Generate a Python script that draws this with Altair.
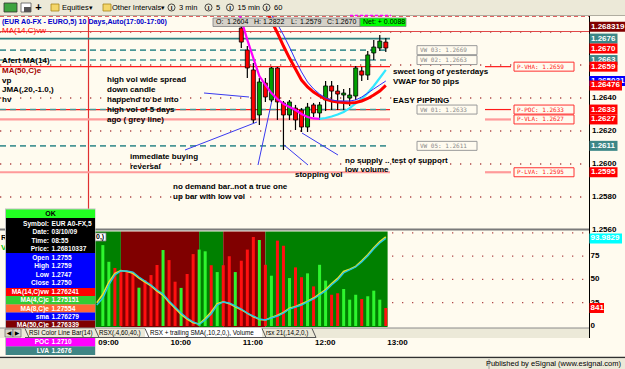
import altair as alt
import pandas as pd

FONT = "Liberation Sans"
MONO = "DejaVu Sans Mono"
CREAM = "#FFFBEF"
GREYUI = "#ECE9D8"

# ---------------- values ----------------
# 5-minute candles, time = minutes after 09:00
candle_t = list(range(120, 245, 5))
cd_open = [1.26824, 1.26691, 1.26570, 1.26297, 1.26491, 1.26388, 1.26582, 1.26370, 1.26297,
           1.26339, 1.26327, 1.26224, 1.26358, 1.26309, 1.26388, 1.26473, 1.26442, 1.26418,
           1.26400, 1.26412, 1.26564, 1.26539, 1.26673, 1.26703, 1.26739]
cd_high = [1.26885, 1.26715, 1.26612, 1.26521, 1.26521, 1.26588, 1.26588, 1.26382, 1.26388,
           1.26358, 1.26339, 1.26370, 1.26370, 1.26376, 1.26503, 1.26503, 1.26479, 1.26455,
           1.26461, 1.26594, 1.26588, 1.26685, 1.26752, 1.26782, 1.26764]
cd_low = [1.26703, 1.26521, 1.26248, 1.26236, 1.26376, 1.26376, 1.26267, 1.26085, 1.26267,
          1.26206, 1.26194, 1.26194, 1.26285, 1.26267, 1.26321, 1.26327, 1.26327, 1.26327,
          1.26352, 1.26388, 1.26503, 1.26509, 1.26630, 1.26685, 1.26679]
cd_close = [1.26739, 1.26582, 1.26267, 1.26497, 1.26406, 1.26582, 1.26376, 1.26297, 1.26376,
            1.26267, 1.26224, 1.26345, 1.26309, 1.26358, 1.26473, 1.26442, 1.26424, 1.26430,
            1.26418, 1.26582, 1.26539, 1.26661, 1.26709, 1.26745, 1.26703]

# moving averages drawn on the price pane
ma14_t = list(range(140, 245, 5))
ma14 = [1.26945, 1.26867, 1.26794, 1.26715, 1.26642, 1.26576, 1.26509, 1.26467, 1.26436,
        1.26412, 1.26394, 1.26382, 1.26376, 1.26373, 1.26370, 1.26373, 1.26382, 1.26397,
        1.26418, 1.26442, 1.26476]
sma_t = list(range(145, 245, 5))
sma = [1.26903, 1.26848, 1.26782, 1.26709, 1.26630, 1.26558, 1.26497, 1.26455, 1.26424,
       1.26400, 1.26388, 1.26382, 1.26382, 1.26382, 1.26388, 1.26406, 1.26430, 1.26455,
       1.26479, 1.26503]
ma4_t = list(range(115, 190, 5))
ma4 = [1.26982, 1.26873, 1.26752, 1.26642, 1.26533, 1.26479, 1.26430, 1.26394, 1.26364,
       1.26345, 1.26327, 1.26303, 1.26285, 1.26276, 1.26273]
jma_t = list(range(185, 245, 5))
jma = [1.26273, 1.26279, 1.26288, 1.26300, 1.26315, 1.26339, 1.26367, 1.26394, 1.26430,
       1.26473, 1.26521, 1.26570]

# volume pane
vol_t = [-75] + list(range(5, 245, 5))
volume = [3320,
          3780, 3000, 2710, 2620, 2570, 2520, 1790, 2150, 2380, 2850, 3550, 3080, 2070, 1780,
          2430, 3360, 3570, 3490, 2840, 2520, 2840, 3260, 2520, 3050, 3570, 4160, 4020, 2860,
          2350, 3990, 3750, 2240, 2740, 2280, 2460, 1850, 2860, 2120, 1460, 1530, 1730, 1230,
          1460, 1260, 1390, 1650, 1230, 841]
vol_dir = list("G" + "GGRRRRGRRRGRRGRR" + "GGRGRRGRRRGRGRRGRRGRGGRRGGGRGGGR")
rsx_t = list(range(0, 245, 5))
rsx_cyan = [22.5, 30.0, 44.0, 54.7, 59.0, 59.0, 57.9, 52.6, 48.3, 44.0, 38.6, 34.3, 26.8, 20.4,
            13.9, 8.6, 4.3, 1.6, 6.4, 12.9, 22.5, 25.8, 24.7, 21.5, 18.2, 13.9, 10.7, 7.5, 6.4,
            8.6, 10.7, 13.9, 18.2, 20.4, 22.5, 25.8, 29.0, 33.3, 37.6, 44.0, 49.4, 56.9, 60.1,
            63.3, 68.7, 75.1, 82.6, 89.1, 94.0]
rsx_yellow = [25, 34, 47, 56.5, 59.5, 58.5, 56.5, 51.5, 47, 43, 37.5, 33, 25.5, 19, 12.5, 7.5,
              3.5, 2, 8, 15, 24, 26, 24, 20.5, 17.5, 13.5, 10, 7, 6.5, 9, 11.5, 14.5, 19, 21,
              23.5, 26.5, 30, 34.5, 39, 45.5, 51, 58.5, 61, 64, 70, 76.5, 84, 90.5, 95.5]
band_start = [-70, 20, 85, 105, 140]
band_end = [20, 85, 105, 140, 241.5]
band_state = ["bull", "bear", "bull", "bear", "bull"]

# horizontal levels
vw_levels = [1.2669, 1.2663, 1.2633, 1.2611]
vw_names = ["VW 03:", "VW 02:", "VW 01:", "VW 05:"]
vw_top = 1.2676
p_levels = [1.2659, 1.2633, 1.2627, 1.2595]
p_names = ["P-VHA:", "P-POC:", "P-VLA:", "P-LVA:"]
p_kind = ["strong", "strong", "light", "light"]
ma_line_level = 1.26803
grid_prices = [1.2680, 1.2660, 1.2640, 1.2620, 1.2600, 1.2580]
price_ticks = [1.2640, 1.2620, 1.2600, 1.2580, 1.2560]
rsx_ticks = [75, 50, 25, 0]
rsx_grid = [100, 75, 50, 25]
time_ticks = [0, 60, 120, 180, 240]
time_labels = ["09:00", "10:00", "11:00", "12:00", "13:00"]

# value tags on the right axis
tag_p = [1.268319, 1.2676, 1.2670, 1.2663, 1.2659, 1.26503, 1.26476, 1.2633, 1.2627, 1.2611, 1.2595]
tag_txt = ["1.268319", "1.2676", "1.2670", "1.2663", "1.2659", "1.265031", "1.26476", "1.2633",
           "1.2627", "1.2611", "1.2595"]
tag_kind = ["ma50", "vw", "red", "vw", "red", "sma", "red", "red", "red", "vw", "red"]
rsx_last, rsx_last_txt = 93.98, "93.9829"
vol_last, vol_last_txt = 841, "841"

# ---------------- scales ----------------
XS = alt.Scale(domain=[-76.25, 434.5], range=[0, 625], nice=False, zero=False)
PS = alt.Scale(domain=[1.2560, 1.2690], range=[230, 15.5], nice=False, zero=False)
RS = alt.Scale(domain=[0, 100], range=[326, 232.8], nice=False, zero=False)
VS = alt.Scale(domain=[0, 4355], range=[326, 232.8], nice=False, zero=False)
X = alt.X("t:Q", scale=XS, axis=None)

ONE = pd.DataFrame({"_": [0]})
layers = []


def txt(s, x, y, size=8, color="black", bold=True, align="left", font=FONT):
    return alt.Chart(ONE).mark_text(text=s, align=align, baseline="middle", font=font,
                                    fontSize=size, fontWeight="bold" if bold else "normal",
                                    color=color).encode(x=alt.value(x), y=alt.value(y))


def box(x, x2, y, y2, fill, stroke=None, sw=1.0):
    kw = dict(fill=fill)
    if stroke:
        kw.update(stroke=stroke, strokeWidth=sw)
    else:
        kw.update(strokeWidth=0)
    return alt.Chart(ONE).mark_rect(**kw).encode(x=alt.value(x), x2=alt.value(x2),
                                                  y=alt.value(y), y2=alt.value(y2))


def seg(x, y, x2, y2, color, w=1.0, dash=None):
    kw = dict(color=color, strokeWidth=w)
    if dash:
        kw["strokeDash"] = dash
    return alt.Chart(ONE).mark_rule(**kw).encode(x=alt.value(x), y=alt.value(y),
                                                  x2=alt.value(x2), y2=alt.value(y2))


# ---------------- lower pane: trend bands, volume, RSX ----------------
bands = pd.DataFrame({"t": band_start, "t2": band_end, "s": band_state})
layers.append(alt.Chart(bands).mark_rect().encode(
    x=X, x2="t2:Q", y=alt.value(231.5), y2=alt.value(327),
    color=alt.Color("s:N", scale=alt.Scale(domain=["bull", "bear"], range=["#008000", "#800000"]),
                    legend=None)))
for v in rsx_grid:
    d = pd.DataFrame({"v": [v]})
    layers.append(alt.Chart(d).mark_rule(color="#B04848", strokeWidth=1.3, strokeDash=[1.3, 8.7]).encode(
        x=alt.value(392), x2=alt.value(589), y=alt.Y("v:Q", scale=RS, axis=None)))
vdf = pd.DataFrame({"t": vol_t, "v": volume, "d": vol_dir})
layers.append(alt.Chart(vdf).mark_bar(size=3).encode(
    x=X, y=alt.Y("v:Q", scale=VS, axis=None),
    color=alt.Color("d:N", scale=alt.Scale(domain=["G", "R"], range=["#2EF52E", "#FF1010"]), legend=None)))
rdf = pd.DataFrame({"t": rsx_t, "c": rsx_cyan, "y": rsx_yellow})
layers.append(alt.Chart(rdf).mark_line(color="#E8E030", strokeWidth=1.6).encode(
    x=X, y=alt.Y("y:Q", scale=RS, axis=None)))
layers.append(alt.Chart(rdf).mark_line(color="#22C8E6", strokeWidth=1.4).encode(
    x=X, y=alt.Y("c:Q", scale=RS, axis=None)))

# ---------------- upper pane: grid and level lines ----------------
for p in grid_prices:
    d = pd.DataFrame({"p": [p]})
    layers.append(alt.Chart(d).mark_rule(color="#B04848", strokeWidth=1.3, strokeDash=[1.3, 8.7]).encode(
        x=alt.value(0), x2=alt.value(589), y=alt.Y("p:Q", scale=PS, axis=None)))

layers.append(seg(0, 16.5, 589, 16.5, "#E06060", 1, [4, 3]))
layers.append(alt.Chart(pd.DataFrame({"p": [ma_line_level]})).mark_rule(color="#E04848", strokeWidth=1).encode(
    x=alt.value(0), x2=alt.value(589), y=alt.Y("p:Q", scale=PS, axis=None)))
layers.append(seg(88.5, 17, 88.5, 229, "#E03030", 1.2))

pcol = {"strong": "#FF1A1A", "light": "#FF9A9A"}
pw = {"strong": 1.2, "light": 2.2}
for p, k in zip(p_levels, p_kind):
    d = pd.DataFrame({"p": [p]})
    for xa, xb in [(0, 390), (485, 511)]:
        layers.append(alt.Chart(d).mark_rule(color=pcol[k], strokeWidth=pw[k]).encode(
            x=alt.value(xa), x2=alt.value(xb), y=alt.Y("p:Q", scale=PS, axis=None)))
layers.append(alt.Chart(pd.DataFrame({"p": [vw_top]})).mark_rule(color="#2F7F7F", strokeWidth=1.6).encode(
    x=alt.value(0), x2=alt.value(390), y=alt.Y("p:Q", scale=PS, axis=None)))
for p in vw_levels:
    d = pd.DataFrame({"p": [p]})
    layers.append(alt.Chart(d).mark_rule(color="#4A9696", strokeWidth=1.6, strokeDash=[6, 4]).encode(
        x=alt.value(0), x2=alt.value(390), y=alt.Y("p:Q", scale=PS, axis=None)))

# level tags inside the chart
for p, n in zip(vw_levels, vw_names):
    d = pd.DataFrame({"p": [p], "s": [f"{n}   {p:.4f}"]})
    layers.append(alt.Chart(d).mark_rect(fill=CREAM, stroke="#9A9A9A", strokeWidth=1, yOffset=-4.5,
                                         y2Offset=4.5).encode(
        x=alt.value(417), x2=alt.value(477), y=alt.Y("p:Q", scale=PS, axis=None), y2="p:Q"))
    layers.append(alt.Chart(d).mark_text(font=MONO, fontSize=6, color="#8A8A8A", align="left",
                                         baseline="middle").encode(
        x=alt.value(420), y=alt.Y("p:Q", scale=PS, axis=None), text="s:N"))
for p, n in zip(p_levels, p_names):
    d = pd.DataFrame({"p": [p], "s": [f"{n}   {p:.4f}"]})
    layers.append(alt.Chart(d).mark_rect(fill=CREAM, stroke="#FF3030", strokeWidth=1, yOffset=-4.5,
                                         y2Offset=4.5).encode(
        x=alt.value(514), x2=alt.value(574), y=alt.Y("p:Q", scale=PS, axis=None), y2="p:Q"))
    layers.append(alt.Chart(d).mark_text(font=MONO, fontSize=6, color="#FF2020", align="left",
                                         baseline="middle").encode(
        x=alt.value(517), y=alt.Y("p:Q", scale=PS, axis=None), text="s:N"))

# annotation pointer lines
for (a, b, c, d_) in [(204, 93, 249, 97), (185, 150, 257, 122), (258, 165, 272, 100),
                      (284, 145, 308, 165), (302, 133, 338, 155)]:
    layers.append(seg(a, b, c, d_, "#3A3AF0", 1))

# ---------------- candles and averages ----------------
cdf = pd.DataFrame({"t": candle_t, "o": cd_open, "h": cd_high, "l": cd_low, "c": cd_close})
cdf["dir"] = ["up" if c >= o else "down" for o, c in zip(cdf.o, cdf.c)]
layers.append(alt.Chart(cdf).mark_rule(color="black", strokeWidth=1.2).encode(
    x=X, y=alt.Y("l:Q", scale=PS, axis=None), y2="h:Q"))
layers.append(alt.Chart(cdf).mark_bar(size=4, stroke="black", strokeWidth=0.8).encode(
    x=X, y=alt.Y("o:Q", scale=PS, axis=None), y2="c:Q",
    color=alt.Color("dir:N", scale=alt.Scale(domain=["up", "down"], range=["#00A000", "#FF0000"]),
                    legend=None)))
for tt, vv, col, w in [(ma4_t, ma4, "#FF00FF", 2.2), (jma_t, jma, "#33E8FF", 2.2),
                       (ma14_t, ma14, "#FF0000", 3), (sma_t, sma, "#3030FF", 1)]:
    d = pd.DataFrame({"t": tt, "p": vv})
    layers.append(alt.Chart(d).mark_line(color=col, strokeWidth=w).encode(
        x=X, y=alt.Y("p:Q", scale=PS, axis=None)))

# ---------------- texts on the price pane ----------------
layers.append(txt("(EUR A0-FX - EURO,5) 10 Days,Auto(17:00-17:00)", 2, 21.5, 7.1, "#0000CC"))
layers.append(txt("MA(14,C)vw", 2, 31, 8, "#FF0000", bold=False))
layers.append(txt("Afert MA(14)", 2, 61, 8))
layers.append(txt("MA(50,C)e", 2, 71, 8, "#A00000"))
layers.append(txt("vp", 2, 80.5, 8))
layers.append(txt("JMA(,20,-1.0,)", 2, 90, 8))
layers.append(txt("hv", 2, 99.5, 8))
notes = [("high vol wide spread", 107, 80), ("down candle", 107, 90), ("happend to be into", 107, 100),
         ("high vol of 5 days", 107, 109.5), ("ago ( grey line)", 107, 119.5),
         ("immediate buying", 130, 157), ("reversal", 130, 166.5),
         ("no demand bar..not a true one", 173, 187), ("up bar with low vol", 173, 196.5),
         ("stopping vol", 295, 174.5), ("no supply .. test of support", 345, 160.5),
         ("low volume", 345, 170), ("sweet long of yesterdays", 393, 72),
         ("VWAP for 50 pips", 393, 81.5), ("EASY PIPPING", 393, 100.5)]
for s, x, y in notes:
    layers.append(txt(s, x, y, 8))

# ---------------- right axis ----------------
layers.append(seg(0, 229.5, 589, 229.5, "#7A7A7A", 2))
layers.append(seg(589.5, 16, 589.5, 338, "black", 1))
for p in price_ticks:
    d = pd.DataFrame({"p": [p], "s": [f"{p:.4f}"]})
    layers.append(alt.Chart(d).mark_text(font=FONT, fontSize=8, fontWeight="bold", align="left",
                                         baseline="middle", color="black").encode(
        x=alt.value(592), y=alt.Y("p:Q", scale=PS, axis=None), text="s:N"))
for v in rsx_ticks:
    d = pd.DataFrame({"v": [v], "s": [str(v)]})
    layers.append(alt.Chart(d).mark_text(font=FONT, fontSize=8, fontWeight="bold", align="left",
                                         baseline="middle", color="black").encode(
        x=alt.value(590.5), y=alt.Y("v:Q", scale=RS, axis=None), text="s:N"))
tagcol = {"ma50": "#800000", "vw": "#3D8787", "red": "#FF0000", "sma": "#0000FF"}
for p, s, k in zip(tag_p, tag_txt, tag_kind):
    d = pd.DataFrame({"p": [p], "s": [s]})
    w = 4.5 * len(s) + 1
    layers.append(alt.Chart(d).mark_rect(fill=tagcol[k], yOffset=-5, y2Offset=5).encode(
        x=alt.value(589.5), x2=alt.value(589.5 + w), y=alt.Y("p:Q", scale=PS, axis=None), y2="p:Q"))
    layers.append(alt.Chart(d).mark_text(font=FONT, fontSize=8, fontWeight="bold", align="left",
                                         baseline="middle", color="white").encode(
        x=alt.value(591), y=alt.Y("p:Q", scale=PS, axis=None), text="s:N"))
for val, s, sc, col in [(rsx_last, rsx_last_txt, RS, "#00FFFF"), (vol_last, vol_last_txt, VS, "#FF0000")]:
    d = pd.DataFrame({"v": [val], "s": [s]})
    w = 4.5 * len(s) + 1
    layers.append(alt.Chart(d).mark_rect(fill=col, yOffset=-5, y2Offset=5).encode(
        x=alt.value(589.5), x2=alt.value(589.5 + w), y=alt.Y("v:Q", scale=sc, axis=None), y2="v:Q"))
    layers.append(alt.Chart(d).mark_text(font=FONT, fontSize=8, fontWeight="bold", align="left",
                                         baseline="middle", color="white").encode(
        x=alt.value(590.5), y=alt.Y("v:Q", scale=sc, axis=None), text="s:N"))

# small pane caption in lower pane
layers.append(box(95, 106, 233, 241, "white", "#777777", 0.8))
layers.append(txt("0,)", 96, 237, 7))
layers.append(txt("R", 1, 238, 8))
layers.append(txt("V", 1, 247.5, 8, "#00C000"))

# ---------------- data window (legend box) ----------------
layers.append(box(5, 95.5, 208.5, 355, "#C0C0C0"))
layers.append(box(6, 95, 209.5, 218, "#22FF22"))
layers.append(txt("OK", 50.5, 214, 7, "black", align="center"))
blocks = [(218, 253, "#000000"), (253, 288, "#0000FF"), (288, 296, "#FF0000"), (296, 304.5, "#33CC33"),
          (304.5, 312.5, "#FF6633"), (312.5, 320.5, "#0000FF"), (320.5, 329, "#800000"),
          (338, 346.5, "#FF00FF"), (346.5, 355, "#3F8585")]
for a, b, c in blocks:
    layers.append(box(6, 95, a, b, c))
rows = [("Symbol:", "EUR A0-FX,5", 223.5), ("Date:", "03/10/09", 232), ("Time:", "08:55", 240.5),
        ("Price:", "1.26810337", 249), ("Open", "1.2755", 257.5), ("High", "1.2759", 266),
        ("Low", "1.2747", 274.5), ("Close", "1.2750", 283), ("MA(14,C)vw", "1.276241", 292),
        ("MA(4,C)c", "1.275151", 300.3), ("MA(8,C)e", "1.27554", 308.5), ("sma", "1.276279", 316.5),
        ("MA(50,C)e", "1.276339", 324.8), ("POC", "1.2710", 342.3), ("LVA", "1.2676", 350.8)]
for a, b, y in rows:
    layers.append(txt(a, 49, y, 6.6, "white", align="right"))
    layers.append(txt(b, 51.5, y, 6.6, "white"))

# ---------------- tab bar and time axis ----------------
layers.append(box(0, 589, 328, 338, GREYUI))
layers.append(seg(0, 328, 589, 328, "#8A8A8A", 1))
layers.append(box(145, 262, 328, 337.5, "white"))
for x in [25, 95, 145, 262, 312]:
    layers.append(seg(x, 328.5, x + 4, 337.5, "#555555", 1))
layers.append(seg(25, 337.5, 316, 337.5, "#555555", 1))
layers.append(box(5, 13, 329, 337, "#D8D4C8", "#777777", 0.8))
layers.append(box(13, 21, 329, 337, "#D8D4C8", "#777777", 0.8))
layers.append(txt("\u25C0", 9, 333, 6, "black", align="center", font="DejaVu Sans"))
layers.append(txt("\u25B6", 17, 333, 6, "black", align="center", font="DejaVu Sans"))
for s, x in [("RSI Color Line Bar(14)", 29), ("RSX(,4,60,40,)", 99),
             ("RSX + trailing SMA(,10,2,0,), Volume", 150), ("rsx 21(,14,2,0,)", 266)]:
    layers.append(txt(s, x, 333, 6.3, "black", bold=False))
tdf = pd.DataFrame({"t": time_ticks, "s": time_labels})
layers.append(alt.Chart(tdf).mark_text(font=FONT, fontSize=8, fontWeight="bold", align="left",
                                       baseline="middle", color="black", dx=1.5).encode(
    x=X, y=alt.value(343), text="s:N"))

# ---------------- toolbar and header ----------------
layers.append(box(0, 625, 0, 15.5, GREYUI))
layers.append(seg(0, 15.5, 625, 15.5, "#B0ADA0", 1))
layers.append(box(4, 17, 3, 12, "#3FA43F", "#333333", 0.8))
layers.append(box(21, 31, 3, 12, "white", "#555555", 0.8))
layers.append(box(24, 31, 7, 12, "#555555"))
layers.append(txt("+", 38.5, 7.5, 11, "black", align="center"))
for x in [51, 103]:
    layers.append(box(x, x + 8, 4, 11, "#F4D66A", "#A8861B", 0.8))
layers.append(txt("Equities", 62, 7.5, 7.5, "black", bold=False))
layers.append(txt("\u25BE", 89, 7.5, 7, "black", font="DejaVu Sans"))
layers.append(txt("Other Intervals", 112, 7.5, 7.5, "black", bold=False))
layers.append(txt("\u25BE", 161, 7.5, 7, "black", font="DejaVu Sans"))
for cx, s in [(171.5, "3 min"), (208.5, "5"), (230, "15 min"), (266.5, "60")]:
    layers.append(alt.Chart(ONE).mark_point(shape="circle", size=50, filled=False, color="black",
                                            strokeWidth=1).encode(x=alt.value(cx), y=alt.value(7.5)))
    layers.append(txt("I", cx, 7.5, 6, "black", align="center"))
    layers.append(txt(s, cx + 7.5, 7.5, 7.5, "black", bold=False))
layers.append(seg(350, 15.5, 391, 15.5, "#FF00FF", 1.5, [3, 2]))
layers.append(box(213, 360, 18, 26.5, "#D4D0C8", "#808080", 0.8))
for s, x in [("O:", 216), ("1.2604", 227), ("H:", 254), ("1.2822", 263), ("L:", 291),
             ("1.2579", 300), ("C:", 327), ("1.2670", 335)]:
    layers.append(txt(s, x, 22.3, 7, "black", bold=False))
layers.append(box(360, 406, 18, 26.5, "#00FF00", "#808080", 0.8))
layers.append(txt("Net: + 0.0088", 363, 22.3, 7, "black", bold=False))

# ---------------- status bar ----------------
layers.append(seg(0, 357.5, 625, 357.5, "#303030", 1.5))
layers.append(box(0, 625, 358.5, 369, GREYUI))
layers.append(seg(489, 359, 489, 369, "#999999", 1))
layers.append(txt("Published by eSignal (www.esignal.com)", 621, 364, 7.5, "black", bold=False,
                  align="right"))

chart = alt.layer(*layers).properties(
    width=625, height=369, padding=0, autosize=alt.AutoSizeParams(type="none"), background=CREAM
).resolve_scale(y="independent", color="independent").configure_view(stroke=None)

chart.save("out.html", embed_options={"renderer": "svg", "actions": False})
